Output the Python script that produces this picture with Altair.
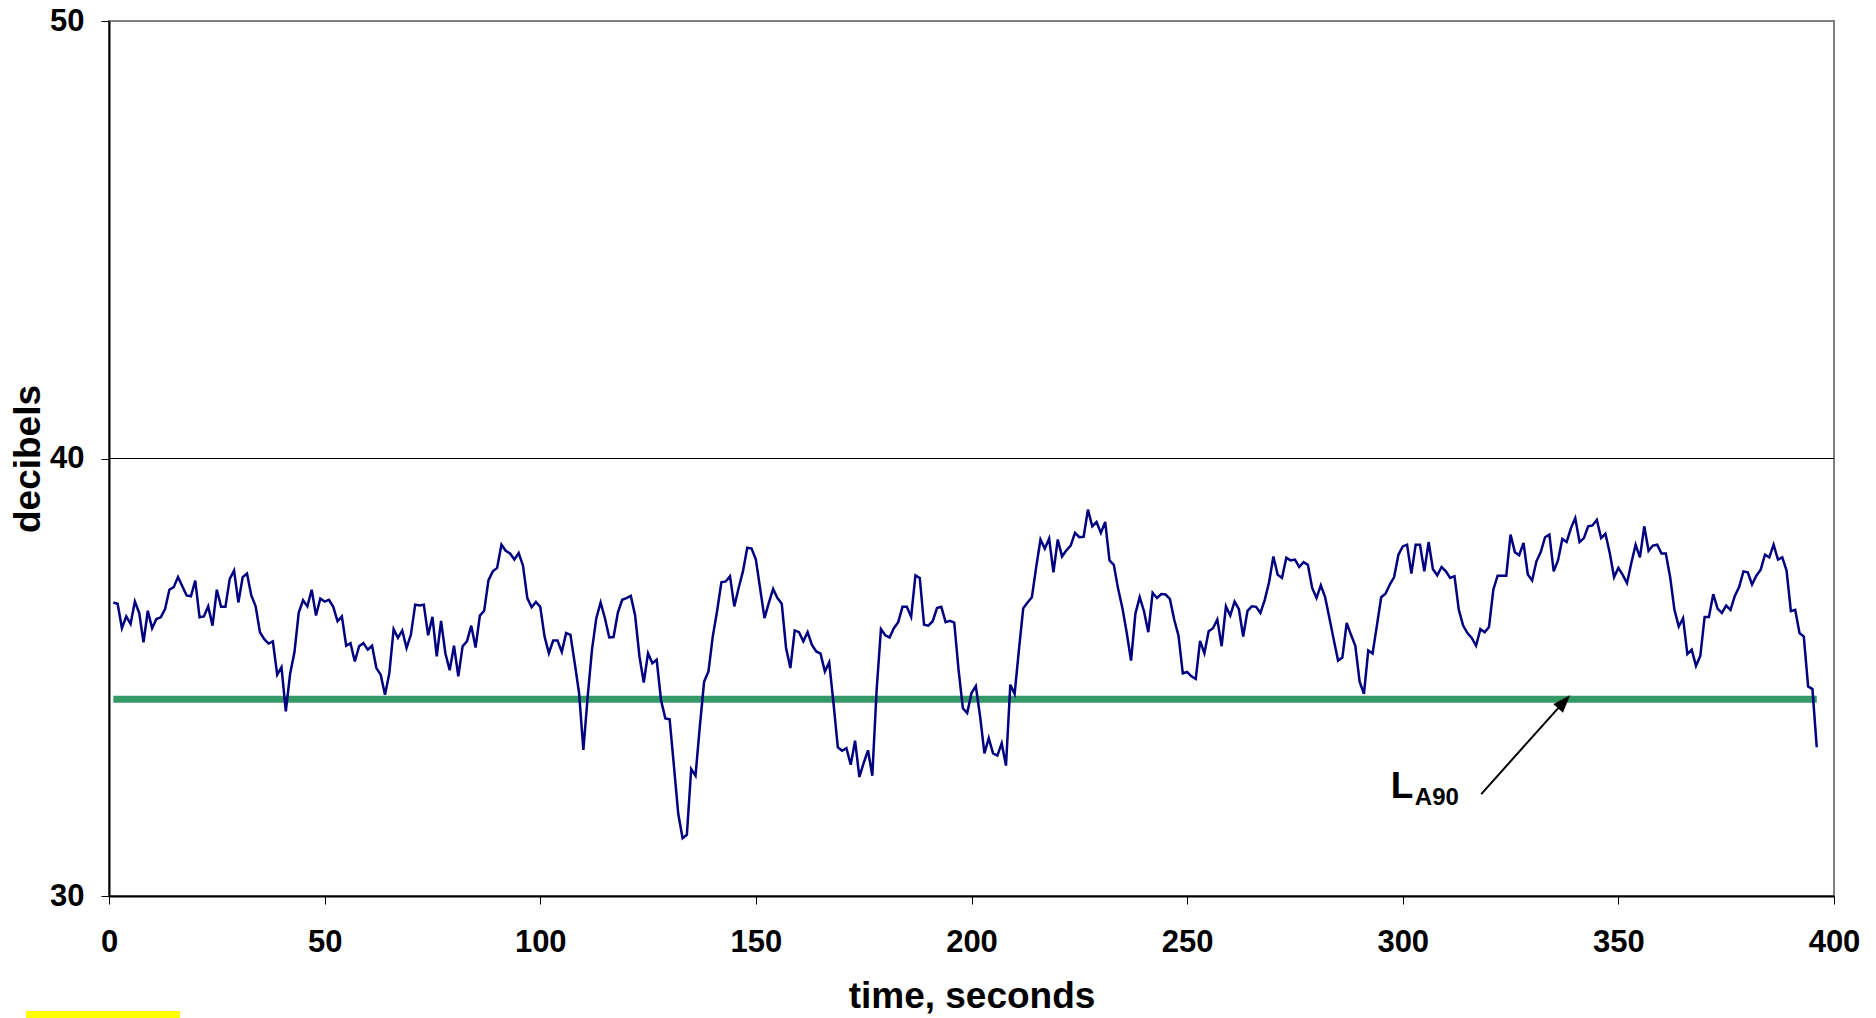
import altair as alt
import pandas as pd

# ---- data ----
seconds = list(range(1, 397))
decibels = [
    36.71, 36.68, 36.12, 36.39, 36.22, 36.73, 36.47, 35.80, 36.52, 36.12,
    36.33, 36.37, 36.56, 37.00, 37.06, 37.29, 37.08, 36.87, 36.85, 37.21,
    36.37, 36.39, 36.62, 36.18, 37.00, 36.61, 36.61, 37.25, 37.44, 36.71,
    37.29, 37.37, 36.87, 36.62, 36.03, 35.87, 35.77, 35.82, 35.06, 35.23,
    34.22, 35.08, 35.57, 36.48, 36.76, 36.62, 37.00, 36.41, 36.80, 36.73,
    36.77, 36.61, 36.28, 36.39, 35.72, 35.78, 35.36, 35.71, 35.78, 35.63,
    35.72, 35.21, 35.06, 34.60, 35.09, 36.10, 35.90, 36.07, 35.67, 35.97,
    36.66, 36.64, 36.66, 35.96, 36.38, 35.48, 36.29, 35.55, 35.16, 35.72,
    35.02, 35.71, 35.82, 36.18, 35.68, 36.41, 36.52, 37.22, 37.42, 37.50,
    38.03, 37.89, 37.83, 37.69, 37.84, 37.55, 36.81, 36.60, 36.72, 36.61,
    35.93, 35.55, 35.84, 35.84, 35.58, 36.01, 35.97, 35.32, 34.64, 33.34,
    34.56, 35.63, 36.35, 36.71, 36.35, 35.91, 35.92, 36.48, 36.77, 36.81,
    36.86, 36.41, 35.48, 34.88, 35.55, 35.32, 35.40, 34.48, 34.06, 34.04,
    32.97, 31.88, 31.32, 31.40, 32.90, 32.75, 33.87, 34.90, 35.13, 35.93,
    36.51, 37.17, 37.19, 37.31, 36.62, 37.04, 37.42, 37.96, 37.94, 37.69,
    37.02, 36.35, 36.70, 37.02, 36.81, 36.68, 35.67, 35.21, 36.07, 36.03,
    35.82, 36.03, 35.74, 35.59, 35.54, 35.13, 35.34, 34.41, 33.40, 33.32,
    33.38, 33.00, 33.55, 32.72, 33.04, 33.33, 32.75, 34.71, 36.10, 35.96,
    35.91, 36.12, 36.26, 36.61, 36.61, 36.38, 37.33, 37.27, 36.20, 36.18,
    36.28, 36.58, 36.61, 36.26, 36.29, 36.25, 35.17, 34.29, 34.18, 34.64,
    34.80, 34.10, 33.26, 33.61, 33.26, 33.21, 33.49, 32.98, 34.83, 34.62,
    35.63, 36.58, 36.71, 36.83, 37.52, 38.15, 37.94, 38.17, 37.40, 38.15,
    37.76, 37.90, 38.01, 38.30, 38.20, 38.21, 38.83, 38.45, 38.55, 38.30,
    38.55, 37.67, 37.57, 37.02, 36.58, 36.01, 35.38, 36.45, 36.83, 36.51,
    36.03, 36.93, 36.81, 36.90, 36.89, 36.79, 36.32, 35.95, 35.09, 35.12,
    35.02, 34.96, 35.83, 35.55, 36.05, 36.12, 36.32, 35.71, 36.62, 36.41,
    36.73, 36.56, 35.93, 36.52, 36.62, 36.61, 36.47, 36.77, 37.17, 37.76,
    37.34, 37.27, 37.73, 37.67, 37.69, 37.52, 37.63, 37.57, 37.04, 36.81,
    37.10, 36.83, 36.35, 35.86, 35.38, 35.45, 36.24, 35.97, 35.72, 34.90,
    34.62, 35.61, 35.54, 36.18, 36.83, 36.91, 37.12, 37.29, 37.80, 37.99,
    38.03, 37.37, 38.03, 38.03, 37.42, 38.09, 37.47, 37.33, 37.52, 37.42,
    37.27, 37.31, 36.54, 36.18, 36.01, 35.90, 35.72, 36.10, 36.03, 36.15,
    37.00, 37.32, 37.32, 37.32, 38.26, 37.86, 37.79, 38.07, 37.35, 37.21,
    37.65, 37.86, 38.20, 38.26, 37.42, 37.67, 38.16, 38.09, 38.41, 38.64,
    38.09, 38.18, 38.45, 38.47, 38.60, 38.18, 38.28, 37.84, 37.29, 37.50,
    37.34, 37.15, 37.61, 38.03, 37.74, 38.45, 37.89, 38.01, 38.03, 37.83,
    37.83, 37.29, 36.54, 36.16, 36.35, 35.53, 35.63, 35.26, 35.49, 36.38,
    36.38, 36.90, 36.57, 36.47, 36.64, 36.54, 36.86, 37.06, 37.42, 37.40,
    37.12, 37.32, 37.46, 37.80, 37.74, 38.03, 37.69, 37.74, 37.44, 36.51,
    36.54, 36.01, 35.93, 34.79, 34.73, 33.40,
]
la90_level = [34.5]
x_ticks = [0, 50, 100, 150, 200, 250, 300, 350, 400]
y_ticks = [30, 40, 50]
grid_levels = [40]

# annotation: label "L" + subscript "A90", arrow pointing at the LA90 line
label_main = ["L"]
label_main_pos = [(297.2, 32.24)]
label_sub = ["A90"]
label_sub_pos = [(302.8, 32.08)]
arrow_tail = (318.2, 32.33)
arrow_base = (336.1, 34.30)
arrow_tip = (338.7, 34.58)

FONT = "Liberation Sans"
NAVY = "#000080"
GREEN = "#339966"

series = pd.DataFrame({"t": seconds, "db": decibels})
la90 = pd.DataFrame({"t": [seconds[0]], "t2": [seconds[-1]], "db": la90_level})
grid = pd.DataFrame({"db": grid_levels})
lab1 = pd.DataFrame({"t": [p[0] for p in label_main_pos],
                     "db": [p[1] for p in label_main_pos], "txt": label_main})
lab2 = pd.DataFrame({"t": [p[0] for p in label_sub_pos],
                     "db": [p[1] for p in label_sub_pos], "txt": label_sub})
arrow_line = pd.DataFrame({"t": [arrow_tail[0], arrow_base[0]],
                           "db": [arrow_tail[1], arrow_base[1]]})
arrow_head = pd.DataFrame({"t": [arrow_tip[0]], "db": [arrow_tip[1]]})

x_enc = alt.X(
    "t:Q",
    scale=alt.Scale(domain=[0, 400], nice=False, zero=False),
    axis=alt.Axis(
        values=x_ticks, title="time, seconds", grid=False,
        labelFlush=False, labelOverlap=False,
        labelFontSize=31, labelFontWeight="bold", labelFont=FONT, labelColor="#000",
        labelPadding=23, labelBaseline="top",
        tickColor="#000", tickSize=8, tickWidth=1,
        domainColor="#000", domainWidth=2,
        titleFont=FONT, titleFontSize=37, titleFontWeight="bold", titleColor="#000",
        titleY=111, titleBaseline="alphabetic",
    ),
)
y_enc = alt.Y(
    "db:Q",
    scale=alt.Scale(domain=[30, 50], nice=False, zero=False),
    axis=alt.Axis(
        values=y_ticks, title="decibels", grid=False,
        labelOverlap=False, labelFlush=False,
        labelFontSize=31, labelFontWeight="bold", labelFont=FONT, labelColor="#000",
        labelPadding=17,
        tickColor="#000", tickSize=8, tickWidth=1,
        domainColor="#000", domainWidth=2,
        titleFont=FONT, titleFontSize=37, titleFontWeight="bold", titleColor="#000",
        titleAngle=270, titleX=-70, titleY=437.5, titleAlign="center",
        titleBaseline="alphabetic",
    ),
)

grid_layer = alt.Chart(grid).mark_rule(color="#000", strokeWidth=1).encode(y=y_enc)

series_layer = alt.Chart(series).mark_line(color=NAVY, strokeWidth=2.5).encode(
    x=x_enc, y=y_enc
)

la90_layer = alt.Chart(la90).mark_rule(color=GREEN, strokeWidth=7).encode(
    x=x_enc, x2="t2", y=y_enc
)

arrow_line_layer = alt.Chart(arrow_line).mark_line(color="#000", strokeWidth=2).encode(
    x=x_enc, y=y_enc
)
arrow_head_layer = alt.Chart(arrow_head).mark_point(
    shape="M0,0 L0.36,1 L-0.36,1 Z", filled=True, fill="#000", stroke="#000",
    strokeWidth=0.5, opacity=1, size=1156, angle=42,
).encode(x=x_enc, y=y_enc)

lab1_layer = alt.Chart(lab1).mark_text(
    font=FONT, fontSize=37, fontWeight="bold", color="#000",
    align="left", baseline="alphabetic",
).encode(x=x_enc, y=y_enc, text="txt:N")
lab2_layer = alt.Chart(lab2).mark_text(
    font=FONT, fontSize=24, fontWeight="bold", color="#000",
    align="left", baseline="alphabetic",
).encode(x=x_enc, y=y_enc, text="txt:N")

yellow_layer = alt.Chart(pd.DataFrame({"k": [0]})).mark_rect(
    color="#FFFF00", clip=False
).encode(
    x=alt.value(-83), x2=alt.value(71), y=alt.value(990), y2=alt.value(997)
)

chart = alt.layer(
    grid_layer, la90_layer, series_layer, arrow_line_layer, arrow_head_layer,
    lab1_layer, lab2_layer, yellow_layer,
).properties(
    width=1725, height=875,
    autosize=alt.AutoSizeParams(type="none"),
    padding={"left": 101, "top": 13, "right": 30, "bottom": 122},
    background="#ffffff",
).configure_view(
    stroke="#808080", strokeWidth=2
)

chart.save("out.html", embed_options={"renderer": "svg", "actions": False})
